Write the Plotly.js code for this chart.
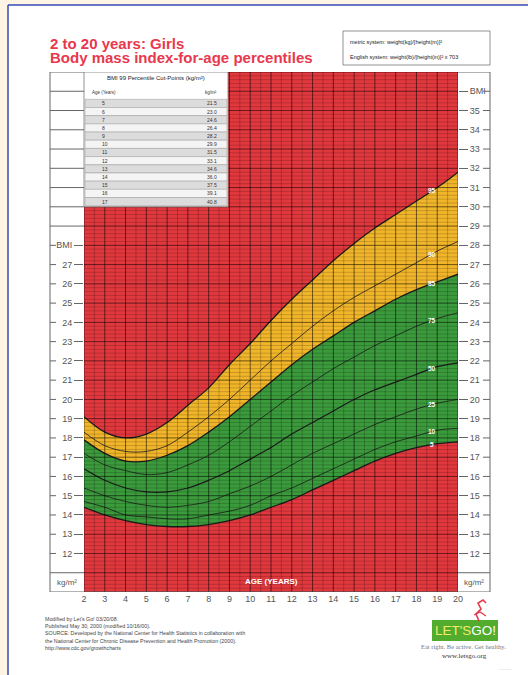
<!DOCTYPE html>
<html><head><meta charset="utf-8">
<script src="https://cdn.plot.ly/plotly-3.0.1.min.js"></script>
<style>html,body{margin:0;padding:0;background:#fff;}#chart{width:528px;height:675px;}</style>
</head><body><div id="chart"></div>
<script>
// ---- data ----
const ages = [2,3,4,5,6,7,8,9,10,11,12,13,14,15,16,17,18,19,20];
const p5  = [14.4,14.0,13.7,13.5,13.4,13.4,13.5,13.7,14.0,14.4,14.8,15.3,15.8,16.3,16.8,17.2,17.5,17.7,17.8];
const p10 = [14.7,14.4,14.0,13.9,13.8,13.8,14.0,14.2,14.5,15.0,15.4,15.9,16.4,16.9,17.4,17.8,18.1,18.4,18.5];
const p25 = [15.4,15.0,14.7,14.5,14.4,14.5,14.7,15.1,15.5,16.0,16.6,17.2,17.7,18.2,18.7,19.1,19.5,19.8,20.0];
const p50 = [16.4,15.8,15.4,15.2,15.2,15.4,15.8,16.3,16.9,17.5,18.2,18.8,19.4,20.0,20.5,20.9,21.3,21.7,21.9];
const p75 = [17.2,16.6,16.3,16.1,16.2,16.6,17.1,17.8,18.6,19.4,20.2,20.9,21.6,22.2,22.8,23.3,23.8,24.2,24.5];
const p85 = [17.9,17.2,16.8,16.8,17.1,17.6,18.3,19.1,20.0,20.9,21.8,22.6,23.3,24.0,24.6,25.2,25.7,26.1,26.5];
const p90 = [18.3,17.6,17.3,17.3,17.6,18.3,19.1,20.0,21.0,22.0,22.9,23.8,24.6,25.3,25.9,26.5,27.1,27.7,28.2];
const p95 = [19.1,18.3,18.0,18.2,18.8,19.7,20.6,21.8,22.9,24.1,25.2,26.2,27.2,28.1,28.9,29.6,30.3,31.0,31.8];
const percentileLabels = ['5','10','25','50','75','85','90','95'];
const cutAges = [5,6,7,8,9,10,11,12,13,14,15,16,17];
const cutValues = ['21.5','23.0','24.6','26.4','28.2','29.9','31.5','33.1','34.6','36.0','37.5','39.1','40.8'];
const leftTicks = [12,13,14,15,16,17,18,19,20,21,22,23,24,25,26,27];
const rightTicks = [12,13,14,15,16,17,18,19,20,21,22,23,24,25,26,27,28,29,30,31,32,33,34,35];
const footerLines = [
  "Modified by Let's Go! 03/20/08.",
  "Published May 30, 2000 (modified 10/16/00).",
  "SOURCE: Developed by the National Center for Health Statistics in collaboration with",
  "the National Center for Chronic Disease Prevention and Health Promotion (2000).",
  "http://www.cdc.gov/growthcharts"
];

// ---- layout helpers ----
const W = 528, H = 675;
const px = x => x / W;
const py = y => 1 - y / H;
const FONT = 'Liberation Sans, Arial, sans-serif';
const RED = '#e1383e', YEL = '#f1b52a', GRN = '#3b9a3c';
const LINE = '#1c1c1c';
const X0 = 84, X1 = 458, YT = 72, YB = 592;

const series = [p5,p10,p25,p50,p75,p85,p90,p95];

const traces = [];
function curve(arr, fill, fillcolor, width, yaxis) {
  const t = {x: ages, y: arr, type: 'scatter', mode: 'lines',
    line: {color: LINE, width: width, shape: 'spline', smoothing: 1},
    hoverinfo: 'skip', showlegend: false};
  if (fill) { t.fill = 'tozeroy'; t.fillcolor = fillcolor; }
  if (yaxis) t.yaxis = yaxis;
  return t;
}
traces.push(curve(p95, true, YEL, 1.3));
traces.push(curve(p85, true, GRN, 1.3));
traces.push(curve(p5, true, RED, 1.3));
traces.push(curve(p10, false, null, 0.8));
traces.push(curve(p25, false, null, 0.8));
traces.push(curve(p50, false, null, 1.2));
traces.push(curve(p75, false, null, 0.8));
traces.push(curve(p90, false, null, 0.8, 'y2'));

const shapes = [];
// page
shapes.push({type:'rect', xref:'paper', yref:'paper', x0:px(8), x1:1, y0:0, y1:py(5), fillcolor:'#ffffff', line:{width:0}, layer:'below'});
shapes.push({type:'line', xref:'paper', yref:'paper', x0:px(8), x1:px(8), y0:0, y1:py(5), line:{color:'#3949b5', width:1.5}, layer:'below'});
shapes.push({type:'line', xref:'paper', yref:'paper', x0:px(8), x1:1, y0:py(5), y1:py(5), line:{color:'#3949b5', width:1.5}, layer:'below'});
// red field of the chart (above 95th and below 5th show through)
shapes.push({type:'rect', xref:'x', yref:'y', x0:2, x1:20, y0:10, y1:37, fillcolor:RED, line:{width:0}, layer:'below'});

// grid over colored fields
for (let v = 10; v <= 37.001; v += 0.2) {
  const major = Math.abs(v - Math.round(v)) < 1e-6;
  shapes.push({type:'line', xref:'x', yref:'y', x0:2, x1:20, y0:v, y1:v,
    line:{color: major ? 'rgba(0,0,0,0.55)' : 'rgba(0,0,0,0.3)', width: major ? 1 : 0.6}, layer:'above'});
}
for (let a = 2; a <= 20.001; a += 0.5) {
  const major = Math.abs(a - Math.round(a)) < 1e-6;
  shapes.push({type:'line', xref:'x', yref:'y', x0:a, x1:a, y0:10, y1:37,
    line:{color: major ? 'rgba(0,0,0,0.55)' : 'rgba(0,0,0,0.35)', width: major ? 1 : 0.6}, layer:'above'});
}

// table (BMI 99th percentile cut-points) over top-left of grid
const TX0 = 84, TX1 = 228;
shapes.push({type:'rect', xref:'paper', yref:'y', x0:px(TX0), x1:px(TX1), y0:30, y1:37, fillcolor:'#ffffff', line:{color:'#777', width:0.8}, layer:'above'});
const rowTop = 99.3, rowH = (205.7 - 99.3) / cutAges.length;
const annotations = [];
cutAges.forEach((a, i) => {
  const y0 = rowTop + i * rowH, y1 = y0 + rowH;
  shapes.push({type:'rect', xref:'paper', yref:'paper', x0:px(TX0+1), x1:px(TX1-1), y0:py(y1), y1:py(y0),
    fillcolor: i % 2 === 0 ? '#dcdcdc' : '#f4f4f4', line:{color:'#9a9a9a', width:0.5}, layer:'above'});
  annotations.push({xref:'paper', yref:'paper', x:px(100), y:py((y0+y1)/2), text:String(a), showarrow:false,
    xanchor:'left', yanchor:'middle', font:{family:FONT, size:5, color:'#333'}});
  annotations.push({xref:'paper', yref:'paper', x:px(219), y:py((y0+y1)/2), text:cutValues[i], showarrow:false,
    xanchor:'right', yanchor:'middle', font:{family:FONT, size:5, color:'#333'}});
});
annotations.push({xref:'paper', yref:'paper', x:px(156), y:py(77.5), text:'BMI 99 Percentile Cut-Points (kg/m²)', showarrow:false,
  xanchor:'center', yanchor:'middle', font:{family:FONT, size:6, color:'#222'}});
annotations.push({xref:'paper', yref:'paper', x:px(90), y:py(92), text:'Age (Years)', showarrow:false,
  xanchor:'left', yanchor:'middle', font:{family:FONT, size:4.5, color:'#333'}});
annotations.push({xref:'paper', yref:'paper', x:px(219), y:py(92), text:'kg/m²', showarrow:false,
  xanchor:'right', yanchor:'middle', font:{family:FONT, size:4.5, color:'#333'}});

// side panels
const PL = 50, PR = 490;
const panelLine = {color:'#666', width:1};
shapes.push({type:'line', xref:'paper', yref:'y', x0:px(PL), x1:px(PL), y0:10, y1:37, line:panelLine});
shapes.push({type:'line', xref:'paper', yref:'y', x0:px(PR), x1:px(PR), y0:10, y1:37, line:panelLine});
shapes.push({type:'line', xref:'paper', yref:'y', x0:px(PL), x1:px(PR), y0:10, y1:10, line:panelLine});
shapes.push({type:'line', xref:'paper', yref:'y', x0:px(PL), x1:px(X0), y0:11, y1:11, line:panelLine});
shapes.push({type:'line', xref:'paper', yref:'y', x0:px(X1), x1:px(PR), y0:11, y1:11, line:panelLine});
for (let v = 29; v <= 37; v++) {
  shapes.push({type:'line', xref:'paper', yref:'y', x0:px(PL), x1:px(X0), y0:v, y1:v, line:panelLine});
}
shapes.push({type:'line', xref:'paper', yref:'y', x0:px(X1), x1:px(PR), y0:37, y1:37, line:panelLine});
leftTicks.concat([28]).forEach(v => {
  shapes.push({type:'line', xref:'paper', yref:'y', x0:px(PL), x1:px(PL+6), y0:v, y1:v, line:{color:'#666', width:1}});
});
rightTicks.concat([36]).forEach(v => {
  shapes.push({type:'line', xref:'paper', yref:'y', x0:px(PR-7), x1:px(PR), y0:v, y1:v, line:{color:'#666', width:1}});
});

// formula box
shapes.push({type:'rect', xref:'paper', yref:'paper', x0:px(343), x1:px(490), y0:py(65), y1:py(31), fillcolor:'#fff', line:{color:'#777', width:0.8}});
annotations.push({xref:'paper', yref:'paper', x:px(348), y:py(42), text:'metric system: weight(kg)/[height(m)]²', showarrow:false,
  xanchor:'left', yanchor:'middle', font:{family:FONT, size:5.5, color:'#222'}});
annotations.push({xref:'paper', yref:'paper', x:px(348), y:py(57), text:'English system: weight(lb)/[height(in)]² x 703', showarrow:false,
  xanchor:'left', yanchor:'middle', font:{family:FONT, size:5.5, color:'#222'}});

// title
const TITLE_C = '#e8384d';
annotations.push({xref:'paper', yref:'paper', x:px(48), y:py(43), text:'<b>2 to 20 years: Girls</b>', showarrow:false,
  xanchor:'left', yanchor:'middle', font:{family:FONT, size:15, color:TITLE_C}});
annotations.push({xref:'paper', yref:'paper', x:px(48), y:py(57.5), text:'<b>Body mass index-for-age percentiles</b>', showarrow:false,
  xanchor:'left', yanchor:'middle', font:{family:FONT, size:15, color:TITLE_C}});

// unit labels and axis title
annotations.push({xref:'paper', yref:'y', x:px((PL+X0)/2), y:10.5, text:'kg/m²', showarrow:false,
  xanchor:'center', yanchor:'middle', font:{family:FONT, size:8, color:'#555'}});
annotations.push({xref:'paper', yref:'y', x:px((X1+PR)/2), y:10.5, text:'kg/m²', showarrow:false,
  xanchor:'center', yanchor:'middle', font:{family:FONT, size:8, color:'#555'}});
annotations.push({xref:'x', yref:'y', x:11, y:10.55, text:'<b>AGE (YEARS)</b>', showarrow:false,
  xanchor:'center', yanchor:'middle', font:{family:FONT, size:8, color:'#ffffff'}});

// percentile labels
const LBL_AGE = 18.75;
function interp(arr, a) {
  const i = Math.floor(a) - ages[0];
  const f = a - Math.floor(a);
  return arr[i] + (arr[i+1] - arr[i]) * f;
}
series.forEach((arr, k) => {
  annotations.push({xref:'x', yref:'y', x:LBL_AGE, y:interp(arr, LBL_AGE), text:'<b>'+percentileLabels[k]+'</b>', showarrow:false,
    xanchor:'center', yanchor:'middle', font:{family:FONT, size:6.5, color:'#ffffff'}});
});

// footer
footerLines.forEach((t, i) => {
  annotations.push({xref:'paper', yref:'paper', x:px(43), y:py(619 + i*7.2), text:t, showarrow:false,
    xanchor:'left', yanchor:'middle', font:{family:FONT, size:5.3, color:'#444'}});
});

// logo
shapes.push({type:'rect', xref:'paper', yref:'paper', x0:px(432), x1:px(498), y0:py(641), y1:py(620), fillcolor:'#52ad2f', line:{width:0}});
annotations.push({xref:'paper', yref:'paper', x:px(465), y:py(630.5), text:"LET'S<span style=\"color:#ffffff\">GO!</span>", showarrow:false,
  xanchor:'center', yanchor:'middle', font:{family:'Liberation Sans Narrow, Liberation Sans, sans-serif', size:13.5, color:'#f2ec6a'}});
annotations.push({xref:'paper', yref:'paper', x:px(463), y:py(646), text:'Eat right. Be active. Get healthy.', showarrow:false,
  xanchor:'center', yanchor:'middle', font:{family:'Liberation Serif, serif', size:6.5, color:'#777'}});
annotations.push({xref:'paper', yref:'paper', x:px(464), y:py(656), text:'www.letsgo.org', showarrow:false,
  xanchor:'center', yanchor:'middle', font:{family:'Liberation Serif, serif', size:7, color:'#333'}});
annotations.push({xref:'paper', yref:'paper', x:px(505), y:py(668), text:'...........', showarrow:false,
  xanchor:'center', yanchor:'middle', font:{family:FONT, size:4, color:'#999'}});
// red squiggle figure
const fig = [[479,621],[476,614],[481,609],[478,603],[483,600],[486,603]];
let path = 'M ' + fig.map(p => px(p[0]) + ',' + py(p[1])).join(' L ');
shapes.push({type:'path', xref:'paper', yref:'paper', path:path, line:{color:'#e8384d', width:1.6}});
shapes.push({type:'path', xref:'paper', yref:'paper', path:'M '+px(474)+','+py(615)+' L '+px(480)+','+py(612)+' L '+px(486)+','+py(616), line:{color:'#e8384d', width:1.3}});

const tickFont = {family:FONT, size:9, color:'#555'};
const layout = {
  width: W, height: H,
  margin: {l:0, r:0, t:0, b:0},
  paper_bgcolor: '#fdf4e3',
  plot_bgcolor: RED,
  showlegend: false,
  xaxis: {domain:[px(X0), px(X1)], range:[2,20], tickvals:ages, ticks:'', showgrid:false, zeroline:false,
    showline:false, tickfont:tickFont, fixedrange:true},
  yaxis: {domain:[py(YB), py(YT)], range:[10,37], tickvals:leftTicks.concat([28]),
    ticktext:leftTicks.map(String).concat(['BMI']), ticks:'outside', ticklen:9, tickcolor:'#666', tickwidth:1,
    showgrid:false, zeroline:false, showline:false, tickfont:tickFont, fixedrange:true},
  yaxis2: {overlaying:'y', side:'right', anchor:'x', range:[10,37], tickvals:rightTicks.concat([36]),
    ticktext:rightTicks.map(String).concat(['BMI']), ticks:'outside', ticklen:9, tickcolor:'#666', tickwidth:1,
    showgrid:false, zeroline:false, showline:false, tickfont:tickFont, fixedrange:true},
  shapes: shapes,
  annotations: annotations
};
Plotly.newPlot('chart', traces, layout, {displayModeBar:false, staticPlot:true});
</script></body></html>
